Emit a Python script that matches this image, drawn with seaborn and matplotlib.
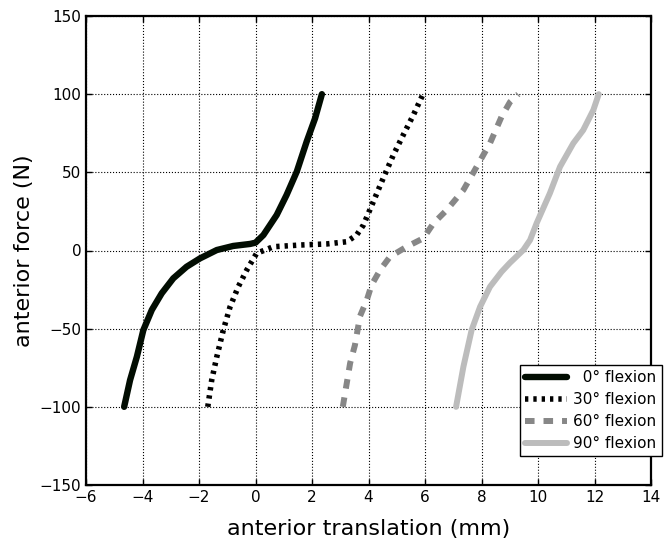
import matplotlib
matplotlib.use("Agg")
import matplotlib.pyplot as plt
import seaborn as sns
import pandas as pd

# Anterior translation (mm) vs. anterior force (N) at four flexion angles
x_0 = [-4.65, -4.44, -4.2, -3.97, -3.67, -3.32, -2.91, -2.44, -1.96, -1.37, -0.79, -0.19,
       0.0, 0.28, 0.75, 1.1, 1.46, 1.81, 2.11, 2.35]
f_0 = [-100, -82.9, -68, -50.9, -38, -27.4, -17.8, -10.4, -5, 0.3, 2.9, 4.2,
       5.0, 9.9, 22.7, 35.5, 50.4, 69.6, 84.6, 100]

x_30 = [-1.69, -1.55, -1.37, -1.14, -0.9, -0.61, -0.31, 0.04, 0.63, 1.58, 2.52, 3.23,
        3.58, 3.82, 4.17, 4.52, 4.88, 5.23, 5.59, 5.93]
f_30 = [-100, -82.9, -68, -50.9, -36, -23.2, -12.5, -1.8, 2.4, 3.5, 4.2, 5.6,
        9.9, 16.3, 31.2, 46.2, 61.1, 73.9, 86.7, 100]

x_60 = [3.09, 3.35, 3.52, 3.7, 3.94, 4.11, 4.41, 4.76, 5.35, 5.94, 6.3, 6.77, 7.36, 7.83,
        8.3, 8.71, 9.01, 9.3]
f_60 = [-100, -72, -60.5, -42, -31.7, -22, -12.5, -4, 2.4, 7.8, 17.4, 25.9, 38.7, 53.6,
        68.6, 85.6, 95, 100]

x_90 = [7.1, 7.36, 7.65, 7.95, 8.3, 8.71, 9.0, 9.48, 9.72, 9.95, 10.42, 10.78, 11.25,
        11.6, 11.96, 12.15]
f_90 = [-100, -74.3, -50.9, -36, -23.2, -13.6, -8, 0.3, 6.7, 17.4, 36.6, 53.6, 68.6,
        77, 89.9, 100]

labels = ["  0° flexion", "30° flexion", "60° flexion", "90° flexion"]

series = [(x_0, f_0), (x_30, f_30), (x_60, f_60), (x_90, f_90)]
styles = [
    dict(color="#020d02", linestyle="-", linewidth=4.6),
    dict(color="black", linestyle=(0, (0.6, 0.9)), linewidth=4.0),
    dict(color="#878787", linestyle=(0, (1.6, 1.5)), linewidth=4.3),
    dict(color="#bcbcbc", linestyle="-", linewidth=4.3),
]

sns.set_style("ticks")
plt.rcParams["font.family"] = ["DejaVu Sans"]
plt.rcParams["xtick.direction"] = "in"
plt.rcParams["ytick.direction"] = "in"
plt.rcParams["text.color"] = "black"
plt.rcParams["axes.labelcolor"] = "black"

fig = plt.figure(figsize=(6.65, 5.48), dpi=100)
ax = fig.add_axes([86 / 665, 1 - 485 / 548, (651 - 86) / 665, (485 - 16) / 548])

for (xs, fs), lab, st in zip(series, labels, styles):
    df = pd.DataFrame({"translation": xs, "force": fs})
    sns.lineplot(data=df, x="translation", y="force", sort=False, estimator=None,
                 ax=ax, label=lab, solid_capstyle="round", solid_joinstyle="round",
                 dash_capstyle="butt", **st)

ax.set_xlim(-6, 14)
ax.set_ylim(-150, 150)
ax.set_xticks(range(-6, 15, 2))
ax.set_yticks(range(-150, 151, 50))
ax.tick_params(axis="both", which="both", labelsize=11, top=True, right=True,
               length=4, width=1, colors="black")
ax.grid(True, linestyle=":", color="black", linewidth=0.8)
for sp in ax.spines.values():
    sp.set_linewidth(1.6)
    sp.set_color("black")

ax.set_xlabel("anterior translation (mm)", fontsize=16, labelpad=10)
ax.set_ylabel("anterior force (N)", fontsize=16, labelpad=4)

leg = ax.legend(loc="upper left", bbox_to_anchor=(0.768, 0.256), borderaxespad=0,
                fontsize=11, frameon=True, fancybox=False, framealpha=1,
                edgecolor="black", handlelength=2.7, handletextpad=0.45,
                borderpad=0.35, labelspacing=0.45)
leg.get_frame().set_linewidth(1.0)
for t in leg.get_texts():
    t.set_color("black")
leg.set_zorder(5)

fig.savefig("out.png", dpi=100)
